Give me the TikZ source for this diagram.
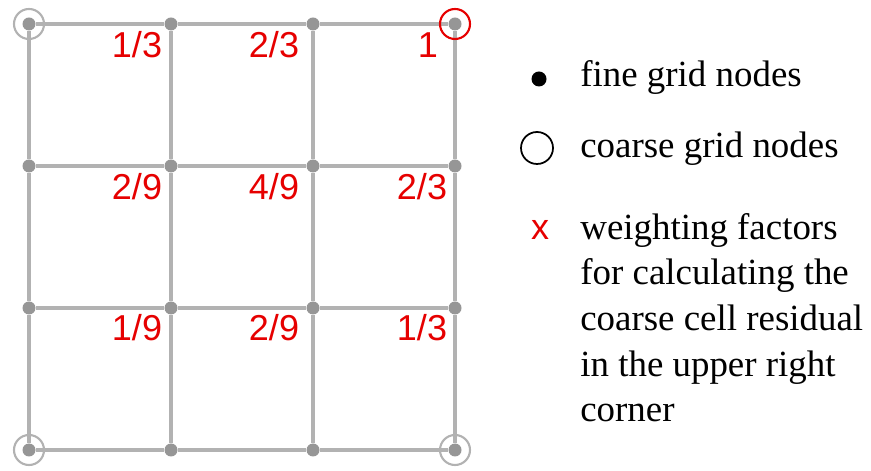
\documentclass[tikz,border=0pt]{standalone}
\usepackage{fontspec}
\setmainfont{Liberation Serif}
\newfontfamily\wfont{Liberation Sans}
\usetikzlibrary{positioning}

\definecolor{gridgray}{RGB}{178,178,178}
\definecolor{dotgray}{RGB}{150,150,150}
\definecolor{wred}{RGB}{230,0,0}

\begin{document}
\begin{tikzpicture}[every node/.style={font=\fontsize{21}{26}\selectfont},
  fine/.style={circle,fill=dotgray,inner sep=0pt,minimum size=0.26cm},
  coarse/.style={circle,draw=gridgray,line width=1.2pt,inner sep=0pt,minimum size=0.6cm},
  link/.style={gridgray,line width=2pt},
  weight/.style={anchor=base,text=wred,font=\wfont\fontsize{20.5}{24}\selectfont},
  legtext/.style={anchor=base west,align=left,inner sep=0pt}]
  \useasboundingbox (0,0) rectangle (17.42,9.42);
  % fine grid
  \node[fine] (n00) at (0.58,0.42) {};
  \node[fine] (n10) at (3.42,0.42) {};
  \node[fine] (n20) at (6.26,0.42) {};
  \node[fine] (n30) at (9.10,0.42) {};
  \node[fine] (n01) at (0.58,3.26) {};
  \node[fine] (n11) at (3.42,3.26) {};
  \node[fine] (n21) at (6.26,3.26) {};
  \node[fine] (n31) at (9.10,3.26) {};
  \node[fine] (n02) at (0.58,6.10) {};
  \node[fine] (n12) at (3.42,6.10) {};
  \node[fine] (n22) at (6.26,6.10) {};
  \node[fine] (n32) at (9.10,6.10) {};
  \node[fine] (n03) at (0.58,8.94) {};
  \node[fine] (n13) at (3.42,8.94) {};
  \node[fine] (n23) at (6.26,8.94) {};
  \node[fine] (n33) at (9.10,8.94) {};
  \draw[link] (n00) -- (n10) -- (n20) -- (n30);
  \draw[link] (n01) -- (n11) -- (n21) -- (n31);
  \draw[link] (n02) -- (n12) -- (n22) -- (n32);
  \draw[link] (n03) -- (n13) -- (n23) -- (n33);
  \draw[link] (n00) -- (n01) -- (n02) -- (n03);
  \draw[link] (n10) -- (n11) -- (n12) -- (n13);
  \draw[link] (n20) -- (n21) -- (n22) -- (n23);
  \draw[link] (n30) -- (n31) -- (n32) -- (n33);
  % coarse grid
  \node[coarse] (c00) at (n00) {};
  \node[coarse] (c30) at (n30) {};
  \node[coarse] (c03) at (n03) {};
  \node[coarse,draw=wred] (c33) at (n33) {};
  % weights
  \node[weight] (w13) at (2.74,8.26) {1/3};
  \node[weight] (w23) at (5.48,8.26) {2/3};
  \node[weight] (w33) at (8.56,8.26) {1};
  \node[weight] (w12) at (2.74,5.43) {2/9};
  \node[weight] (w22) at (5.48,5.43) {4/9};
  \node[weight] (w32) at (8.44,5.43) {2/3};
  \node[weight] (w11) at (2.74,2.61) {1/9};
  \node[weight] (w21) at (5.48,2.61) {2/9};
  \node[weight] (w31) at (8.44,2.61) {1/3};
  % legend
  \node[circle,fill=black,inner sep=0pt,minimum size=0.3cm] (kfine) at (10.78,7.84) {};
  \node[legtext] (tfine) at (11.6,7.68) {fine grid nodes};
  \node[circle,draw=black,line width=1pt,inner sep=0pt,minimum size=0.64cm] (kcoarse) at (10.74,6.46) {};
  \node[legtext] (tcoarse) at (11.6,6.26) {coarse grid nodes};
  \node[weight] (kweight) at (10.8,4.62) {x};
  \node[legtext] (tweight) at (11.6,0.98)
    {weighting factors\\for calculating the\\coarse cell residual\\in the upper right\\corner};
\end{tikzpicture}
\end{document}
